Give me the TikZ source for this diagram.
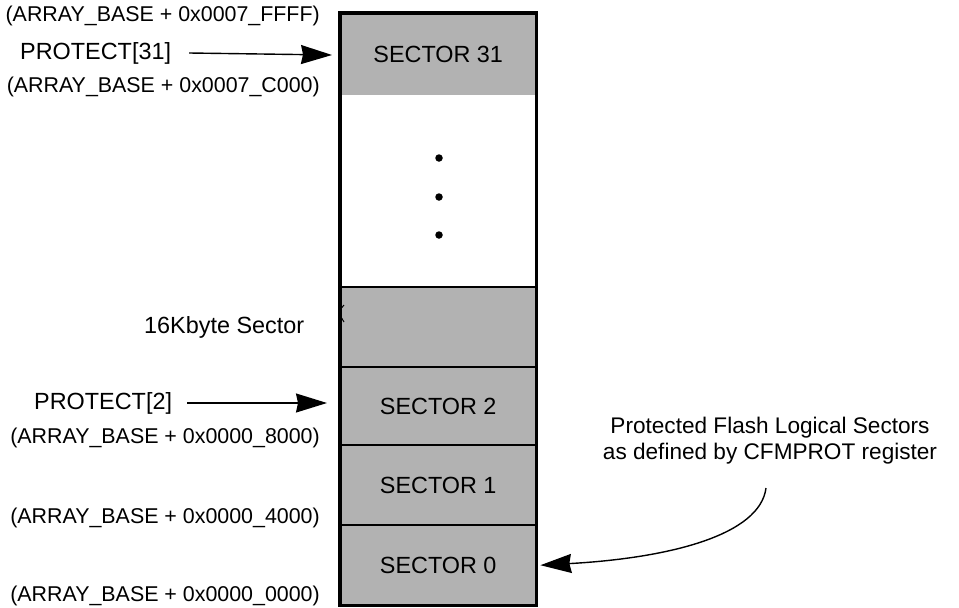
\documentclass[tikz,border=0pt]{standalone}
\usepackage{fontspec}
\setmainfont{Liberation Sans}
\usetikzlibrary{arrows.meta}
\begin{document}
\begin{tikzpicture}[x=1pt,y=-1pt,
  lbl/.style={font=\fontsize{23.4}{27}\selectfont, inner sep=0pt, anchor=west},
  addr/.style={font=\fontsize{21.4}{25}\selectfont, inner sep=0pt, anchor=east},
  sect/.style={fill=black!30, draw=none, minimum width=196pt, inner sep=0pt, anchor=north west, font=\fontsize{23.4}{27}\selectfont},
  divider/.style={line width=2.5pt},
  border/.style={line width=3.2pt},
  arr/.style={line width=1.4pt, -{Stealth[length=31pt,width=19pt,inset=2pt]}},
  dot/.style={circle, fill=black, inner sep=0pt, minimum size=7.5pt}]
\useasboundingbox (0,0) rectangle (959,608);
% sectors
\node[sect, minimum height=82pt] (s31) at (340,13) {SECTOR 31};
\node[sect, fill=none, minimum height=192pt] (gap) at (340,95) {};
\node[sect, minimum height=80pt] (s16) at (340,287) {};
\node[sect, minimum height=78pt] (s2) at (340,367) {SECTOR 2};
\node[sect, minimum height=80pt] (s1) at (340,445) {SECTOR 1};
\node[sect, minimum height=80pt] (s0) at (340,525) {SECTOR 0};
\draw[divider] (s16.north west) -- (s16.north east);
\draw[divider] (s2.north west) -- (s2.north east);
\draw[divider] (s1.north west) -- (s1.north east);
\draw[divider] (s0.north west) -- (s0.north east);
\draw[border] (s31.north west) -- (s31.north east) -- (s0.south east) -- (s0.south west) -- cycle;
% dots
\node[dot] (d1) at (439,158) {};
\node[dot] (d2) at (439,197) {};
\node[dot] (d3) at (439,235) {};
% small mark
\draw[line width=1pt] (344,305) .. controls (338,312) .. (344,322);
% labels
\node[addr] (a7ffff) at (320,16) {(ARRAY\_BASE + 0x0007\_FFFF)};
\node[lbl] (p31) at (20,53) {PROTECT[31]};
\node[addr] (a7c000) at (320,87) {(ARRAY\_BASE + 0x0007\_C000)};
\node[lbl] (k16) at (144,327) {16Kbyte Sector};
\node[lbl] (p2) at (34,403) {PROTECT[2]};
\node[addr] (a8000) at (320,438) {(ARRAY\_BASE + 0x0000\_8000)};
\node[addr] (a4000) at (320,518) {(ARRAY\_BASE + 0x0000\_4000)};
\node[addr] (a0000) at (320,596) {(ARRAY\_BASE + 0x0000\_0000)};
\node[font=\fontsize{22.6}{26}\selectfont, align=center, inner sep=0pt] (note) at (770,441) {Protected Flash Logical Sectors\\as defined by CFMPROT register};
% arrows
\coordinate (t31) at (332,55);
\coordinate (t2) at (327,403);
\coordinate (cstart) at (766,488);
\draw[arr] ([xshift=18pt]p31.east) -- (t31);
\draw[arr] ([xshift=15pt]p2.east) -- (t2);
\draw[arr] (cstart) .. controls (760,535) and (670,558) .. ([xshift=4pt]s0.east);
\end{tikzpicture}
\end{document}
